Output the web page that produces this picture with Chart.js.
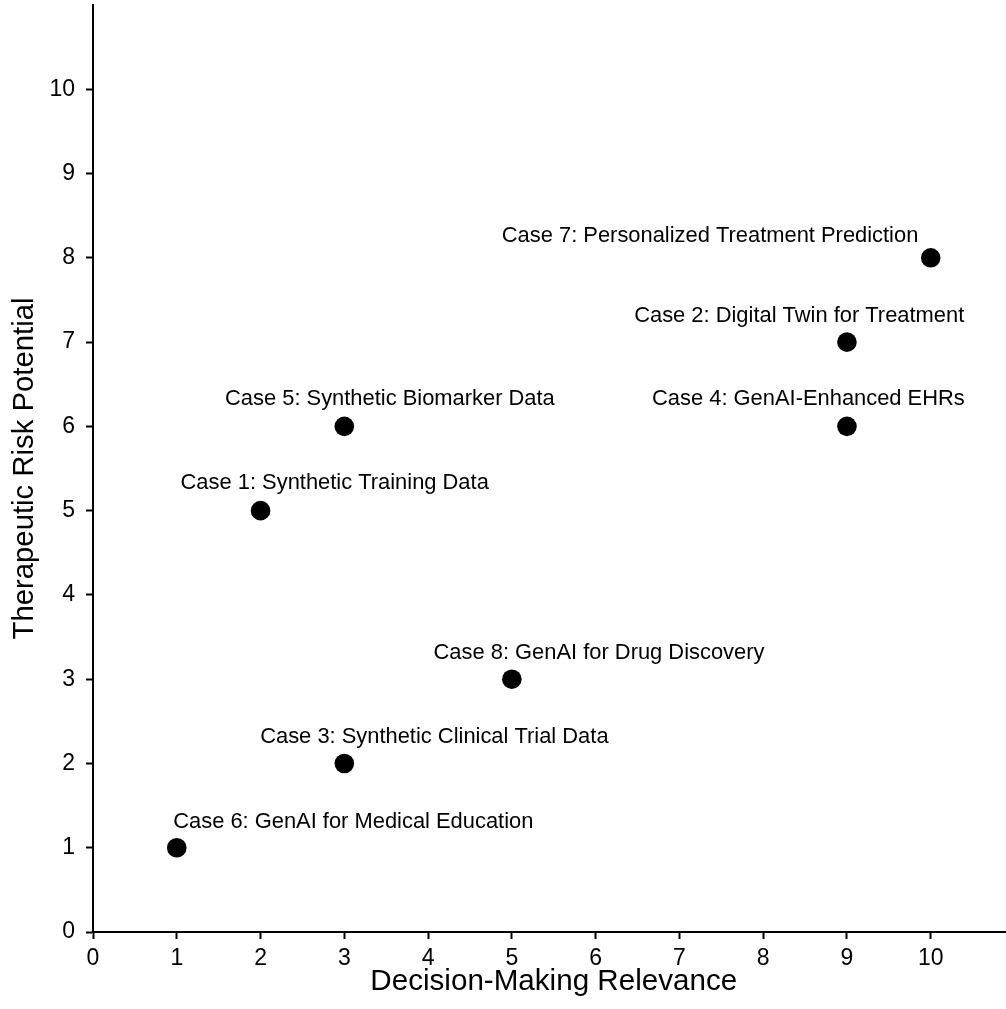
<!DOCTYPE html>
<html>
<head>
<meta charset="utf-8">
<script src="https://cdn.jsdelivr.net/npm/chart.js@4.4.1/dist/chart.umd.min.js"></script>
<style>
  html, body { margin: 0; padding: 0; background: #ffffff; overflow: hidden; }
  #wrap { width: 1020px; height: 1009px; }
</style>
</head>
<body>
<div id="wrap"><canvas id="c" width="1020" height="1009"></canvas></div>
<script>
// ---- data ----
const caseLabels = [
  'Case 1: Synthetic Training Data',
  'Case 2: Digital Twin for Treatment',
  'Case 3: Synthetic Clinical Trial Data',
  'Case 4: GenAI-Enhanced EHRs',
  'Case 5: Synthetic Biomarker Data',
  'Case 6: GenAI for Medical Education',
  'Case 7: Personalized Treatment Prediction',
  'Case 8: GenAI for Drug Discovery'
];
const decisionRelevance = [2, 9, 3, 9, 3, 1, 10, 5];
const riskPotential     = [5, 7, 2, 6, 6, 1, 8, 3];
// label anchor (centre x, baseline y) in data units
const labelX = [2.885, 8.43, 4.075, 8.54, 3.544, 3.107, 7.366, 6.04];
const labelY = [5.26, 7.24, 2.245, 6.25, 6.25, 1.235, 8.19, 3.234];
const xTicks = [0, 1, 2, 3, 4, 5, 6, 7, 8, 9, 10];
const yTicks = [0, 1, 2, 3, 4, 5, 6, 7, 8, 9, 10];
const xTitle = 'Decision-Making Relevance';
const yTitle = 'Therapeutic Risk Potential';

const FONT = '"Liberation Sans", Arial, Helvetica, sans-serif';

const pointLabels = {
  id: 'pointLabels',
  afterDatasetsDraw(chart) {
    const ctx = chart.ctx;
    const xs = chart.scales.x, ys = chart.scales.y;
    ctx.save();
    ctx.font = '21.9px ' + FONT;
    ctx.fillStyle = '#000000';
    ctx.textAlign = 'center';
    ctx.textBaseline = 'alphabetic';
    caseLabels.forEach((t, i) => {
      ctx.fillText(t, xs.getPixelForValue(labelX[i]), ys.getPixelForValue(labelY[i]));
    });
    ctx.restore();
  }
};

new Chart(document.getElementById('c'), {
  type: 'scatter',
  data: {
    datasets: [{
      data: decisionRelevance.map((x, i) => ({ x: x, y: riskPotential[i] })),
      backgroundColor: '#000000',
      borderWidth: 0,
      pointRadius: 9.8,
      pointHoverRadius: 9.8
    }]
  },
  options: {
    responsive: false,
    animation: false,
    layout: { autoPadding: false, padding: { top: 5, right: 5.5, left: 0, bottom: 0 } },
    plugins: { legend: { display: false }, tooltip: { enabled: false } },
    scales: {
      x: {
        type: 'linear', min: 0, max: 11,
        afterBuildTicks: s => { s.ticks = xTicks.map(v => ({ value: v })); },
        afterFit: s => { s.height = 77; s.paddingLeft = 0; s.paddingRight = 0; },
        grid: { drawOnChartArea: false, drawTicks: true, tickLength: 7, tickWidth: 2, tickColor: '#000000' },
        border: { display: true, color: '#000000', width: 2 },
        ticks: { color: '#000000', font: { family: FONT, size: 23 }, padding: 6, maxRotation: 0, autoSkip: false },
        title: { display: true, text: xTitle, color: '#000000', font: { family: FONT, size: 29.6 }, padding: { top: 0, bottom: 9 } }
      },
      y: {
        type: 'linear', min: 0, max: 11,
        afterBuildTicks: s => { s.ticks = yTicks.map(v => ({ value: v })); },
        afterFit: s => { s.width = 93; s.paddingTop = 0; s.paddingBottom = 0; },
        grid: { drawOnChartArea: false, drawTicks: true, tickLength: 7, tickWidth: 2, tickColor: '#000000' },
        border: { display: true, color: '#000000', width: 2 },
        ticks: { color: '#000000', font: { family: FONT, size: 23 }, padding: 11, autoSkip: false },
        title: { display: true, text: yTitle, color: '#000000', font: { family: FONT, size: 29.3 }, padding: { top: 7, bottom: 0 } }
      }
    }
  },
  plugins: [pointLabels]
});
</script>
</body>
</html>
